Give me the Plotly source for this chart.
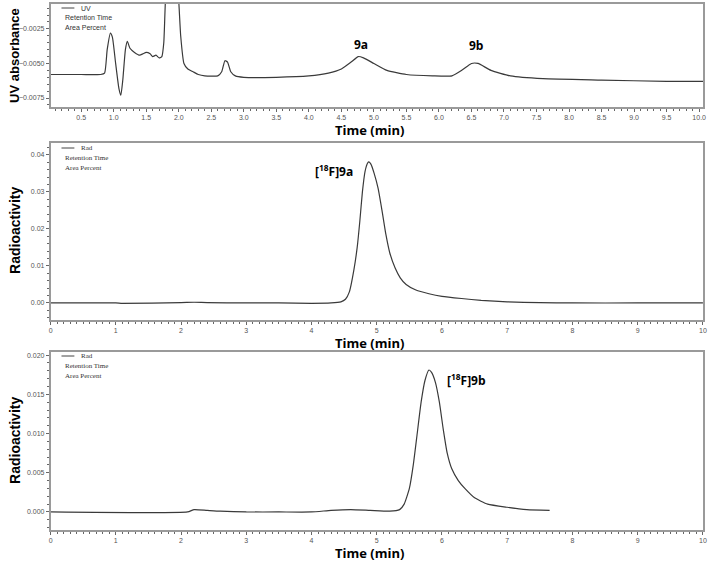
import plotly.graph_objects as go

# UV trace (top panel)
uv_time = [0.03, 0.5, 0.8, 0.86, 0.9, 0.95, 0.98, 1.03, 1.08, 1.11, 1.14, 1.18, 1.21, 1.25,
           1.32, 1.40, 1.45, 1.50, 1.56, 1.60, 1.65, 1.70, 1.74, 1.77, 1.80, 1.85, 1.95, 2.0,
           2.03, 2.08, 2.14, 2.22, 2.3, 2.4, 2.6, 2.66, 2.71, 2.75, 2.8, 2.87, 3.0, 3.5, 4.0,
           4.3, 4.5, 4.65, 4.76, 4.84, 5.0, 5.2, 5.5, 5.9, 6.2, 6.35, 6.5, 6.6, 6.8, 7.1, 7.6,
           8.5, 9.5, 10.06]
uv_abs = [-0.0058, -0.0058, -0.0058, -0.0057, -0.0040, -0.0028, -0.0031, -0.0050, -0.0068,
          -0.0073, -0.0062, -0.0040, -0.0034, -0.0039, -0.0042, -0.0044, -0.0043, -0.0042,
          -0.0043, -0.0045, -0.0044, -0.0046, -0.0045, -0.0035, 0.0000, 0.0020, 0.0020,
          -0.0005, -0.0030, -0.0050, -0.0054, -0.0056, -0.0058, -0.0059, -0.0059, -0.0056,
          -0.0048, -0.0049, -0.0056, -0.0059, -0.0060, -0.0060, -0.0059, -0.0057, -0.0054,
          -0.0049, -0.0045, -0.0046, -0.0050, -0.0055, -0.0058, -0.0059, -0.0059, -0.0055,
          -0.0050, -0.0050, -0.0055, -0.0059, -0.0061, -0.0062, -0.0063, -0.0063]

# Radio trace for [18F]9a (middle panel)
rad_a_time = [0, 1.0, 1.1, 2.0, 2.2, 2.4, 3.0, 3.5, 4.0, 4.3, 4.45, 4.52, 4.58, 4.65, 4.70,
              4.74, 4.78, 4.82, 4.86, 4.88, 4.91, 4.96, 5.02, 5.08, 5.14, 5.20, 5.28, 5.36,
              5.45, 5.6, 5.8, 6.0, 6.3, 6.6, 7.0, 7.5, 8.0, 9.0, 10.0]
rad_a = [0.0000, 0.0000, -0.0001, 0.0001, 0.0002, 0.0001, 0.0000, 0.0000, -0.0001, 0.0000,
         0.0003, 0.0010, 0.0030, 0.0090, 0.0150, 0.0220, 0.0300, 0.0355, 0.0378, 0.0381,
         0.0375, 0.0350, 0.0310, 0.0250, 0.0185, 0.0135, 0.0095, 0.0068, 0.0050, 0.0035,
         0.0025, 0.0018, 0.0012, 0.0007, 0.0003, 0.0001, 0.0000, 0.0000, 0.0000]

# Radio trace for [18F]9b (bottom panel)
rad_b_time = [0, 2.1, 2.2, 2.4, 2.6, 3.0, 3.5, 4.0, 4.3, 4.6, 4.9, 5.2, 5.35, 5.42, 5.50,
              5.56, 5.62, 5.68, 5.74, 5.80, 5.84, 5.90, 5.96, 6.02, 6.08, 6.15, 6.25, 6.35,
              6.5, 6.7, 7.0, 7.3, 7.65]
rad_b = [0.0000, 0.0000, 0.0003, 0.0002, 0.0001, 0.0000, 0.0000, 0.0000, 0.0002, 0.0003,
         0.0002, 0.0001, 0.0003, 0.0010, 0.0030, 0.0060, 0.0100, 0.0140, 0.0168, 0.0181,
         0.0178, 0.0165, 0.0140, 0.0105, 0.0075, 0.0055, 0.0040, 0.0030, 0.0018, 0.0010,
         0.0006, 0.0003, 0.0002]

line_col = "#3a3a3a"
frame_col = "#9a9a9a"
tick_font = dict(family="Liberation Sans, Arial", size=7, color="#555")

fig = go.Figure()
fig.add_trace(go.Scatter(x=uv_time, y=uv_abs, mode="lines", line=dict(color=line_col, width=1.2, shape="spline", smoothing=0.5),
                         xaxis="x", yaxis="y", showlegend=False))
fig.add_trace(go.Scatter(x=rad_a_time, y=rad_a, mode="lines", line=dict(color=line_col, width=1.2, shape="spline", smoothing=0.5),
                         xaxis="x2", yaxis="y2", showlegend=False))
fig.add_trace(go.Scatter(x=rad_b_time, y=rad_b, mode="lines", line=dict(color=line_col, width=1.2, shape="spline", smoothing=0.5),
                         xaxis="x3", yaxis="y3", showlegend=False))

xdom = [49 / 714, 707 / 714]


def ax(**kw):
    base = dict(showline=True, mirror=True, linecolor=frame_col, linewidth=1.5, showgrid=False,
                zeroline=False, ticks="outside", ticklen=3, tickcolor="#666", tickfont=tick_font)
    base.update(kw)
    return base


def minor(step):
    return dict(dtick=step, ticklen=2, ticks="outside", tickcolor="#666")


fig.update_layout(
    width=714, height=564, margin=dict(l=0, r=0, t=0, b=0),
    paper_bgcolor="white", plot_bgcolor="white",
    xaxis=ax(domain=xdom, range=[0.03, 10.06], dtick=0.5, tick0=0, tickformat=".1f", anchor="y", minor=minor(0.1)),
    yaxis=ax(domain=[1 - 107 / 564, 1 - 4 / 564], range=[-0.00815, -0.0007], tickvals=[-0.0025, -0.005, -0.0075],
             tickformat=".4f", anchor="x", minor=minor(0.0005)),
    xaxis2=ax(domain=xdom, range=[0, 10.002], dtick=1, anchor="y2", minor=minor(0.1)),
    yaxis2=ax(domain=[1 - 320 / 564, 1 - 143 / 564], range=[-0.0046, 0.0432], dtick=0.01, tickformat=".2f",
              anchor="x2", minor=minor(0.002)),
    xaxis3=ax(domain=xdom, range=[0, 10.002], dtick=1, anchor="y3", minor=minor(0.1)),
    yaxis3=ax(domain=[1 - 530 / 564, 1 - 352 / 564], range=[-0.0023, 0.0204], dtick=0.005, tickformat=".3f",
              anchor="x3", minor=minor(0.001)),
)

time_font = dict(family="Open Sans, Noto Sans", size=13, color="black")
peak_font = dict(family="Open Sans, Noto Sans", size=12, color="black")

ann = []
# y-axis titles
for txt, yc, sz in [("<b>UV absorbance</b>", 1 - 55 / 564, 13), ("<b>Radioactivity</b>", 1 - 230 / 564, 14),
                    ("<b>Radioactivity</b>", 1 - 440 / 564, 14)]:
    ann.append(dict(text=txt, x=13 / 714, y=yc, xref="paper", yref="paper", textangle=-90,
                    xanchor="center", yanchor="middle", showarrow=False,
                    font=dict(family="Liberation Sans, Arial", size=sz, color="black")))
# x-axis titles
for yc in [1 - 130 / 564, 1 - 343 / 564, 1 - 553 / 564]:
    ann.append(dict(text="<b>Time (min)</b>", x=371 / 714, y=yc, xref="paper", yref="paper",
                    xanchor="center", yanchor="middle", showarrow=False, font=time_font))
# peak labels
ann.append(dict(text="<b>9a</b>", x=4.8, y=-0.0036, xref="x", yref="y", showarrow=False, font=peak_font))
ann.append(dict(text="<b>9b</b>", x=6.57, y=-0.0037, xref="x", yref="y", showarrow=False, font=peak_font))
ann.append(dict(text="<b>[<sup>18</sup>F]9a</b>", x=4.35, y=0.0357, xref="x2", yref="y2", showarrow=False, font=peak_font))
ann.append(dict(text="<b>[<sup>18</sup>F]9b</b>", x=6.38, y=0.0168, xref="x3", yref="y3", showarrow=False, font=peak_font))

# small instrument legend blocks
shapes = []
legend_rows = [("UV", 8, "Liberation Sans, Arial"), ("Rad", 148, "Liberation Serif, Times New Roman"),
               ("Rad", 356, "Liberation Serif, Times New Roman")]
for name, ytop, fam in legend_rows:
    f = dict(family=fam, size=7, color="#333")
    shapes.append(dict(type="line", xref="paper", yref="paper", x0=60 / 714, x1=73 / 714,
                       y0=1 - ytop / 564, y1=1 - ytop / 564, line=dict(color="#444", width=1)))
    ann.append(dict(text=name, x=78 / 714, y=1 - ytop / 564, xref="paper", yref="paper", xanchor="left",
                    yanchor="middle", showarrow=False, font=f))
    ann.append(dict(text="Retention Time", x=62 / 714, y=1 - (ytop + 10) / 564, xref="paper", yref="paper",
                    xanchor="left", yanchor="middle", showarrow=False, font=f))
    ann.append(dict(text="Area Percent", x=62 / 714, y=1 - (ytop + 20) / 564, xref="paper", yref="paper",
                    xanchor="left", yanchor="middle", showarrow=False, font=f))

fig.update_layout(annotations=ann, shapes=shapes)

fig.write_html("out.html", config={"displayModeBar": False},
               post_script="document.body.style.margin='0';")
